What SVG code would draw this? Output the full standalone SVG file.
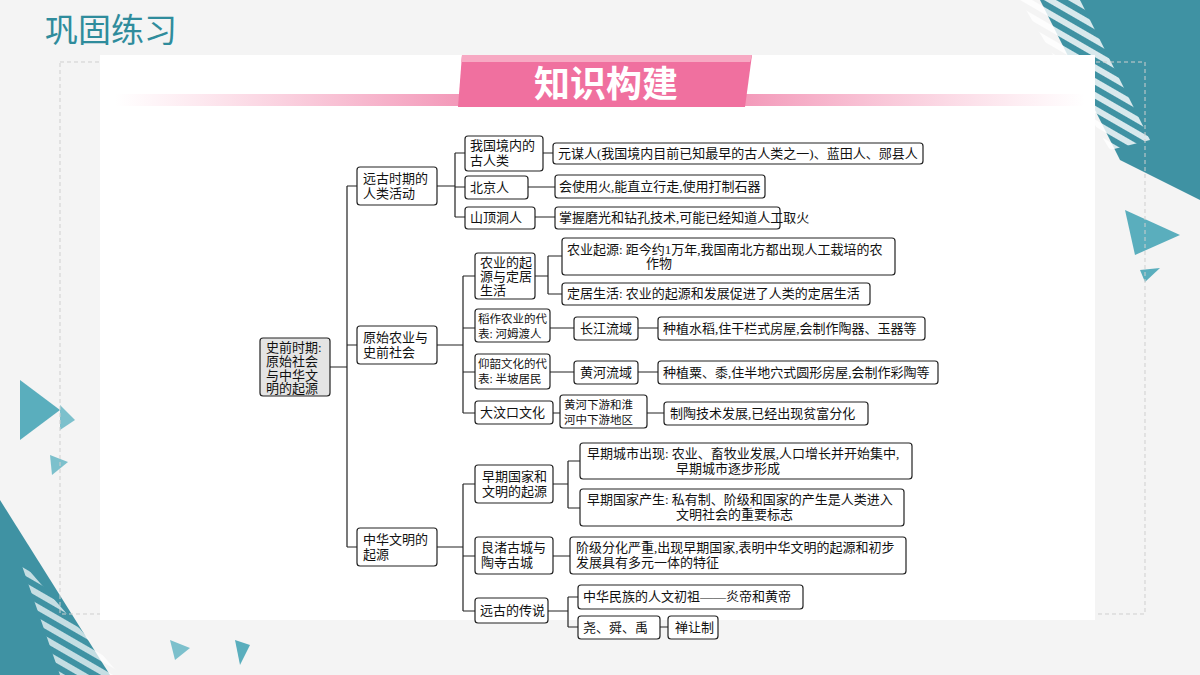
<svg xmlns="http://www.w3.org/2000/svg" width="1200" height="675" viewBox="0 0 1200 675">
<defs>
<linearGradient id="bar" x1="0" x2="1" y1="0" y2="0">
<stop offset="0" stop-color="#f7a9c3" stop-opacity="0"/>
<stop offset="0.35" stop-color="#f39aba"/>
<stop offset="0.65" stop-color="#f39aba"/>
<stop offset="1" stop-color="#f7a9c3" stop-opacity="0"/>
</linearGradient>
<pattern id="stripe" width="12" height="12" patternUnits="userSpaceOnUse" patternTransform="rotate(30)">
<rect width="12" height="6" fill="#ffffff"/>
</pattern>
</defs>
<style>
.b{fill:#fff;stroke:#222;stroke-width:1.2}
.r{fill:#e4e4e4;stroke:#222;stroke-width:1.2}
.t{font-family:"Liberation Serif","Noto Sans CJK SC",serif;font-size:13px;fill:#111}
.s{font-size:11.5px}
.c{fill:none;stroke:#222;stroke-width:1.2}
</style>
<rect width="1200" height="675" fill="#f4f4f4"/>
<polygon points="1040,0 1200,0 1200,200 1120,160" fill="#3f92a3"/>
<polygon points="1020,0 1080,0 1150,140 1110,150" fill="url(#stripe)" opacity="0.8"/>
<polygon points="1125,210 1180,235 1135,255" fill="#5aaebd"/>
<polygon points="1140,270 1160,268 1145,282" fill="#5aaebd"/>
<polygon points="0,500 0,675 110,675" fill="#3f92a3"/>
<polygon points="20,560 120,675 60,675" fill="url(#stripe)" opacity="0.7"/>
<polygon points="20,380 60,410 20,440" fill="#5aaebd"/>
<polygon points="60,405 75,420 60,430" fill="#7cc0cc"/>
<polygon points="50,455 68,462 52,475" fill="#7cc0cc"/>
<polygon points="235,640 250,645 240,665" fill="#5aaebd"/>
<polygon points="170,640 190,648 175,660" fill="#7cc0cc"/>
<rect x="60" y="62" width="1085" height="552" fill="none" stroke="#cfcfcf" stroke-dasharray="4,3"/>
<rect x="100" y="55" width="995" height="565" fill="#ffffff"/>
<text x="45" y="42" font-family="'Noto Sans CJK SC',sans-serif" font-size="33" fill="#2f8c9c">巩固练习</text>
<rect x="115" y="94" width="970" height="12" fill="url(#bar)"/>
<polygon points="462,55 752,55 745,107 458,107" fill="#f0709f"/>
<polygon points="462,55 752,55 750,62 461,62" fill="#f7a9c3"/>
<text x="606" y="97" text-anchor="middle" font-family="'Noto Sans CJK SC',sans-serif" font-weight="bold" font-size="36" fill="#ffffff">知识构建</text>

<g id="connectors">
<path class="c" d="M330,367 H347 M347,186 V547 M347,186 H357 M347,345 H357 M347,547 H357"/>
<path class="c" d="M437,186 H455 M455,153 V217 M455,153 H465 M455,187 H465 M455,217 H465"/>
<path class="c" d="M543,153 H553 M528,187 H555 M535,217 H555"/>
<path class="c" d="M437,345 H463 M463,276 V413 M463,276 H475 M463,328 H475 M463,372 H475 M463,413 H475"/>
<path class="c" d="M535,276 H548 M548,256 V294 M548,256 H562 M548,294 H562"/>
<path class="c" d="M550,328 H574 M638,328 H658 M550,372 H574 M638,372 H658 M553,413 H560 M647,413 H664"/>
<path class="c" d="M437,547 H463 M463,484 V611 M463,484 H475 M463,556 H475 M463,611 H475"/>
<path class="c" d="M553,484 H568 M568,461 V508 M568,461 H580 M568,508 H580 M553,556 H570"/>
<path class="c" d="M548,611 H568 M568,597 V627 M568,597 H578 M568,627 H578 M660,627 H668"/>
</g>

<g id="root"><rect class="r" x="260" y="338" width="70" height="58" rx="3"/>
<text class="t" x="266" y="352">史前时期:</text><text class="t" x="266" y="366">原始社会</text><text class="t" x="266" y="380">与中华文</text><text class="t" x="266" y="393">明的起源</text></g>

<g id="n1"><rect class="b" x="357" y="167" width="80" height="38" rx="3"/><text class="t" x="363" y="183">远古时期的</text><text class="t" x="363" y="198">人类活动</text></g>
<g id="n2"><rect class="b" x="357" y="326" width="80" height="38" rx="3"/><text class="t" x="363" y="342">原始农业与</text><text class="t" x="363" y="357">史前社会</text></g>
<g id="n3"><rect class="b" x="357" y="528" width="80" height="38" rx="3"/><text class="t" x="363" y="544">中华文明的</text><text class="t" x="363" y="559">起源</text></g>

<g id="n11"><rect class="b" x="465" y="136" width="78" height="35" rx="3"/><text class="t" x="470" y="150">我国境内的</text><text class="t" x="470" y="165">古人类</text></g>
<g id="n11a"><rect class="b" x="553" y="143" width="370" height="21" rx="3"/><text class="t" x="558" y="158">元谋人(我国境内目前已知最早的古人类之一)、蓝田人、郧县人</text></g>
<g id="n12"><rect class="b" x="465" y="176" width="63" height="23" rx="3"/><text class="t" x="470" y="192">北京人</text></g>
<g id="n12a"><rect class="b" x="555" y="175" width="210" height="23" rx="3"/><text class="t" x="559" y="191">会使用火,能直立行走,使用打制石器</text></g>
<g id="n13"><rect class="b" x="465" y="207" width="70" height="22" rx="3"/><text class="t" x="470" y="222">山顶洞人</text></g>
<g id="n13a"><rect class="b" x="555" y="207" width="225" height="22" rx="3"/><text class="t" x="559" y="222">掌握磨光和钻孔技术,可能已经知道人工取火</text></g>

<g id="n21"><rect class="b" x="475" y="253" width="60" height="46" rx="3"/><text class="t" x="480" y="267">农业的起</text><text class="t" x="480" y="281">源与定居</text><text class="t" x="480" y="295">生活</text></g>
<g id="n21a"><rect class="b" x="562" y="238" width="333" height="37" rx="3"/><text class="t" x="567" y="254">农业起源: 距今约1万年,我国南北方都出现人工栽培的农</text><text class="t" x="646" y="268">作物</text></g>
<g id="n21b"><rect class="b" x="562" y="283" width="308" height="22" rx="3"/><text class="t" x="567" y="298">定居生活: 农业的起源和发展促进了人类的定居生活</text></g>
<g id="n22"><rect class="b" x="475" y="309" width="75" height="33" rx="3"/><text class="t s" x="478" y="323">稻作农业的代</text><text class="t s" x="478" y="338">表: 河姆渡人</text></g>
<g id="n22a"><rect class="b" x="574" y="317" width="64" height="23" rx="3"/><text class="t" x="580" y="333">长江流域</text></g>
<g id="n22b"><rect class="b" x="658" y="317" width="267" height="23" rx="3"/><text class="t" x="663" y="333">种植水稻,住干栏式房屋,会制作陶器、玉器等</text></g>
<g id="n23"><rect class="b" x="475" y="354" width="75" height="35" rx="3"/><text class="t s" x="478" y="368">仰韶文化的代</text><text class="t s" x="478" y="383">表: 半坡居民</text></g>
<g id="n23a"><rect class="b" x="574" y="361" width="64" height="23" rx="3"/><text class="t" x="580" y="377">黄河流域</text></g>
<g id="n23b"><rect class="b" x="658" y="361" width="280" height="23" rx="3"/><text class="t" x="663" y="377">种植粟、黍,住半地穴式圆形房屋,会制作彩陶等</text></g>
<g id="n24"><rect class="b" x="475" y="401" width="78" height="23" rx="3"/><text class="t" x="480" y="417">大汶口文化</text></g>
<g id="n24a"><rect class="b" x="560" y="395" width="87" height="33" rx="3"/><text class="t s" x="564" y="409">黄河下游和淮</text><text class="t s" x="564" y="424">河中下游地区</text></g>
<g id="n24b"><rect class="b" x="664" y="402" width="204" height="23" rx="3"/><text class="t" x="670" y="418">制陶技术发展,已经出现贫富分化</text></g>

<g id="n31"><rect class="b" x="475" y="465" width="78" height="38" rx="3"/><text class="t" x="482" y="481">早期国家和</text><text class="t" x="482" y="496">文明的起源</text></g>
<g id="n31a"><rect class="b" x="580" y="443" width="332" height="36" rx="3"/><text class="t" x="587" y="458">早期城市出现: 农业、畜牧业发展,人口增长并开始集中,</text><text class="t" x="676" y="473">早期城市逐步形成</text></g>
<g id="n31b"><rect class="b" x="580" y="489" width="324" height="37" rx="3"/><text class="t" x="587" y="504">早期国家产生: 私有制、阶级和国家的产生是人类进入</text><text class="t" x="676" y="519">文明社会的重要标志</text></g>
<g id="n32"><rect class="b" x="475" y="537" width="78" height="37" rx="3"/><text class="t" x="481" y="552">良渚古城与</text><text class="t" x="481" y="567">陶寺古城</text></g>
<g id="n32a"><rect class="b" x="570" y="537" width="336" height="37" rx="3"/><text class="t" x="576" y="552">阶级分化严重,出现早期国家,表明中华文明的起源和初步</text><text class="t" x="576" y="567">发展具有多元一体的特征</text></g>
<g id="n33"><rect class="b" x="475" y="598" width="73" height="25" rx="3"/><text class="t" x="480" y="615">远古的传说</text></g>
<g id="n33a"><rect class="b" x="578" y="585" width="225" height="24" rx="3"/><text class="t" x="583" y="601">中华民族的人文初祖——炎帝和黄帝</text></g>
<g id="n33b"><rect class="b" x="578" y="616" width="82" height="23" rx="3"/><text class="t" x="583" y="632">尧、舜、禹</text></g>
<g id="n33c"><rect class="b" x="668" y="616" width="50" height="23" rx="3"/><text class="t" x="675" y="632">禅让制</text></g>
</svg>
